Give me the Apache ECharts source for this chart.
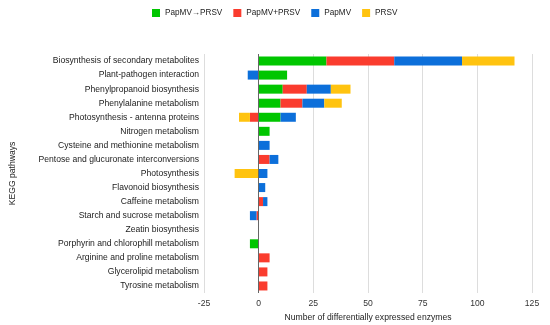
<!DOCTYPE html>
<html>
<head>
<meta charset="utf-8">
<script src="https://cdn.jsdelivr.net/npm/echarts@6/dist/echarts.min.js"></script>
<style>html,body{margin:0;padding:0;background:#fff}#c{width:550px;height:325px}</style>
</head>
<body>
<div id="c"></div>
<script>
const categories = [
  "Biosynthesis of secondary metabolites",
  "Plant-pathogen interaction",
  "Phenylpropanoid biosynthesis",
  "Phenylalanine metabolism",
  "Photosynthesis - antenna proteins",
  "Nitrogen metabolism",
  "Cysteine and methionine metabolism",
  "Pentose and glucuronate interconversions",
  "Photosynthesis",
  "Flavonoid biosynthesis",
  "Caffeine metabolism",
  "Starch and sucrose metabolism",
  "Zeatin biosynthesis",
  "Porphyrin and chlorophill metabolism",
  "Arginine and proline metabolism",
  "Glycerolipid metabolism",
  "Tyrosine metabolism"
];
const seriesNames = ["PapMV\u2192PRSV", "PapMV+PRSV", "PapMV", "PRSV"];
const papmvThenPrsv = [31, 13, 11, 10, 10, 5, 0, 0, 0, 0, 0, 0, 0, -4, 0, 0, 0];
const papmvPlusPrsv = [31, 0, 11, 10, -4, 0, 0, 5, 0, 0, 2, -1, 0, 0, 5, 4, 4];
const papmv = [31, -5, 11, 10, 7, 0, 5, 4, 4, 3, 2, -3, 0, 0, 0, 0, 0];
const prsv = [24, 0, 9, 8, -5, 0, 0, 0, -11, 0, 0, 0, 0, 0, 0, 0, 0];
const xTicks = [-25, 0, 25, 50, 75, 100, 125];
const colors = ["#00c600", "#fa3c2e", "#0c6fda", "#ffc30f"];

const allData = [papmvThenPrsv, papmvPlusPrsv, papmv, prsv];
const font = "Liberation Sans, Arial, sans-serif";
const chart = echarts.init(document.getElementById('c'));
const series = allData.map((d, i) => ({
  name: seriesNames[i],
  type: 'bar',
  stack: 'total',
  barWidth: 9,
  itemStyle: { color: colors[i] },
  data: d.map(v => v === 0 ? null : v),
  markLine: i === 0 ? {
    silent: true, symbol: 'none', label: { show: false },
    lineStyle: { color: '#666', width: 1, type: 'solid' },
    data: [{ xAxis: 0 }], z: 10
  } : undefined
}));
chart.setOption({
  animation: false,
  color: colors,
  textStyle: { fontFamily: font },
  legend: {
    top: 4, left: 147,
    itemWidth: 8, itemHeight: 8, itemGap: 11,
    icon: 'rect',
    textStyle: { fontSize: 8.2, color: '#222', fontFamily: font }
  },
  grid: { left: 204, right: 18, top: 54, bottom: 32, containLabel: false, outerBoundsMode: 'none' },
  xAxis: {
    type: 'value', min: xTicks[0], max: xTicks[xTicks.length - 1], interval: 25,
    name: 'Number of differentially expressed enzymes',
    nameLocation: 'middle', nameGap: 18,
    nameTextStyle: { fontSize: 8.6, color: '#222', fontFamily: font },
    axisLine: { show: false }, axisTick: { show: false },
    axisLabel: { fontSize: 8.6, color: '#333', margin: 6, fontFamily: font },
    splitLine: { lineStyle: { color: '#ddd' } }
  },
  yAxis: {
    type: 'category', data: categories, inverse: true,
    name: 'KEGG pathways', nameLocation: 'middle', nameGap: 187, nameRotate: 90,
    nameTextStyle: { fontSize: 8.6, color: '#222', fontFamily: font },
    axisLine: { show: false }, axisTick: { show: false },
    axisLabel: { fontSize: 8.6, color: '#222', margin: 5, fontFamily: font },
    splitLine: { show: false }
  },
  series: series
});
</script>
</body>
</html>
